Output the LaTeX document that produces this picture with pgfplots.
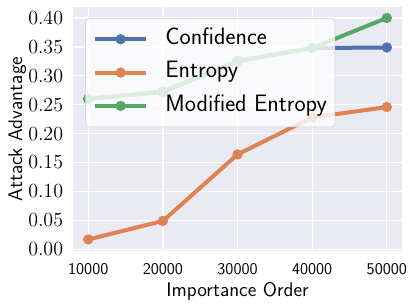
\documentclass[border=0pt]{standalone}
\usepackage{fix-cm}
\usepackage{fontspec}
\usepackage{pgfplots}
\pgfplotsset{compat=1.18}
\definecolor{sbblue}{HTML}{4C72B0}
\definecolor{sborange}{HTML}{DD8452}
\definecolor{sbgreen}{HTML}{55A868}
\definecolor{sbbg}{HTML}{EAEAF2}
\begin{document}
\begin{tikzpicture}
\begin{axis}[name=ax, scale only axis, width=246.3pt, height=182.8pt,
  xmin=8000, xmax=52000, ymin=-0.0025, ymax=0.419,
  axis background/.style={fill=sbbg},
  axis line style={draw=none},
  major tick length=0pt,
  grid=major, major grid style={white, line width=1pt},
  xtick={10000,20000,30000,40000,50000},
  xticklabels={10000,20000,30000,40000,50000},
  scaled x ticks=false,
  ytick={0,0.05,0.1,0.15,0.2,0.25,0.3,0.35,0.4},
  yticklabel shift=7.5pt,
  xticklabel shift=9pt,
  yticklabel style={/pgf/number format/.cd, fixed, fixed zerofill, precision=2, /tikz/.cd,
    font=\fontsize{15}{16}\selectfont, anchor=east, inner sep=0pt},
  xticklabel style={font=\sffamily\fontsize{12.3}{14}\selectfont, anchor=north, inner sep=0pt},
  xlabel={Importance Order},
  xlabel style={font=\sffamily\fontsize{14.8}{17}\selectfont, at={(axis description cs:0.5,-0.186)}, anchor=base, inner sep=0pt},
  ylabel={Attack Advantage},
  ylabel style={font=\sffamily\fontsize{14.8}{17}\selectfont, at={(axis description cs:-0.1563,0.5)}, anchor=base, inner sep=0pt},
  legend style={at={(axis description cs:0,1)}, anchor=north west, xshift=8.8pt, yshift=-8.3pt,
    fill=white, fill opacity=0.8, draw=white!80!black, text opacity=1, rounded corners=3pt,
    inner xsep=6pt, inner ysep=7.2pt, row sep=8pt, column sep=13pt,
    font=\sffamily\fontsize{17.8}{20}\selectfont,
    nodes={inner sep=0pt, text height=12.5pt, text depth=4.5pt}},
  legend cell align=left,
  legend image code/.code={\draw[mark repeat=2, mark phase=2, #1] plot coordinates {(0pt,0pt) (19pt,0pt) (38pt,0pt)};},
]
\addplot[sbblue, line width=3pt, mark=*, mark size=3.6pt, mark options={line width=0.5pt, fill=sbblue, fill opacity=1, draw opacity=1}]
  coordinates {(10000,0.260) (20000,0.272) (30000,0.325) (40000,0.348) (50000,0.349)};
\addlegendentry{Confidence}
\addplot[sborange, line width=3pt, mark=*, mark size=3.6pt, mark options={line width=0.5pt, fill=sborange, fill opacity=1, draw opacity=1}]
  coordinates {(10000,0.017) (20000,0.049) (30000,0.164) (40000,0.228) (50000,0.246)};
\addlegendentry{Entropy}
\addplot[sbgreen, line width=3pt, mark=*, mark size=3.6pt, mark options={line width=0.5pt, fill=sbgreen, fill opacity=1, draw opacity=1}]
  coordinates {(10000,0.260) (20000,0.273) (30000,0.326) (40000,0.348) (50000,0.400)};
\addlegendentry{Modified Entropy}
\end{axis}
\pgfresetboundingbox
\path ([shift={(-55pt,-42.2pt)}]ax.south west) rectangle ([shift={(10.7pt,5.25pt)}]ax.north east);
\end{tikzpicture}
\end{document}
